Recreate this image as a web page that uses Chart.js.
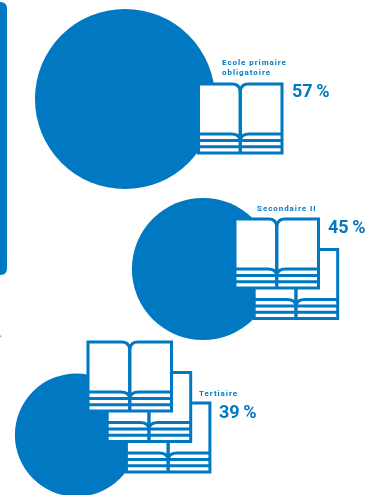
<!DOCTYPE html>
<html>
<head>
<meta charset="utf-8">
<style>
  html, body { margin: 0; padding: 0; background: #fff; overflow: hidden; }
  #myChart { display: block; }
</style>
<script src="https://cdn.jsdelivr.net/npm/chart.js@4"></script>
</head>
<body>
<canvas id="myChart" width="366" height="495"></canvas>
<script>
const categories = [['Ecole primaire', 'obligatoire'], ['Secondaire II'], ['Tertiaire']];
const percents = [57, 45, 39];
const bookCounts = [1, 2, 3];

const blue = '#0079c2';
const radiusPerPercent = 1.58;

// where each group sits, in canvas units (the axes run 0-366 and 0-495)
const groups = [
    {cx: 125, cy: 99, bookX: 198.5, bookY: 84, labelX: 222, labelY: 65, pctX: 292, pctY: 97},
    {cx: 203, cy: 269, bookX: 235, bookY: 219, labelX: 257, labelY: 211, pctX: 328, pctY: 233},
    {cx: 76.5, cy: 435, bookX: 88, bookY: 342, labelX: 199, labelY: 396, pctX: 219, pctY: 418}
];
const bookW = 83.5;
const bookH = 69;
const bookStepX = 19.2;
const bookStepY = 30.5;

function drawBook(ctx, x, y) {
    let mid = x + bookW / 2;
    let pageEnd = y + 50;

    ctx.fillStyle = '#fff';
    ctx.fillRect(x, y, bookW, bookH);

    ctx.strokeStyle = blue;
    ctx.lineWidth = 3;
    ctx.lineJoin = 'miter';

    // outer edge with the dip at the spine
    ctx.beginPath();
    ctx.moveTo(mid, y + 7);
    ctx.quadraticCurveTo(mid - 1, y, mid - 8, y);
    ctx.lineTo(x, y);
    ctx.lineTo(x, y + bookH);
    ctx.lineTo(x + bookW, y + bookH);
    ctx.lineTo(x + bookW, y);
    ctx.lineTo(mid + 8, y);
    ctx.quadraticCurveTo(mid + 1, y, mid, y + 7);
    ctx.stroke();

    // bottom edge of the open pages
    ctx.beginPath();
    ctx.moveTo(x, pageEnd);
    ctx.lineTo(mid - 9, pageEnd);
    ctx.quadraticCurveTo(mid - 1, pageEnd, mid, pageEnd + 6);
    ctx.quadraticCurveTo(mid + 1, pageEnd, mid + 9, pageEnd);
    ctx.lineTo(x + bookW, pageEnd);
    ctx.stroke();

    // page stripes
    ctx.beginPath();
    for (let i = 1; i <= 2; i++) {
        ctx.moveTo(x, pageEnd + i * 6.4);
        ctx.lineTo(x + bookW, pageEnd + i * 6.4);
    }
    ctx.stroke();

    // spine
    ctx.lineWidth = 3.4;
    ctx.beginPath();
    ctx.moveTo(mid, y + 6);
    ctx.lineTo(mid, y + bookH + 1);
    ctx.stroke();
}

const extras = {
    id: 'extras',
    afterDatasetsDraw(chart) {
        let ctx = chart.ctx;
        let xs = chart.scales.x;
        let ys = chart.scales.y;
        ctx.save();

        // rounded panel on the left edge
        ctx.fillStyle = blue;
        ctx.beginPath();
        ctx.roundRect(xs.getPixelForValue(-10), ys.getPixelForValue(2), 17, 273, 6);
        ctx.fill();

        // clipped mark on the left margin
        ctx.fillStyle = '#666';
        ctx.font = '6px Roboto';
        ctx.fillText('>', xs.getPixelForValue(-1.5), ys.getPixelForValue(338));

        for (let i = 0; i < groups.length; i++) {
            let g = groups[i];
            // back book first so the front one covers it
            for (let n = bookCounts[i] - 1; n >= 0; n--) {
                drawBook(ctx,
                    xs.getPixelForValue(g.bookX + n * bookStepX),
                    ys.getPixelForValue(g.bookY + n * bookStepY));
            }

            ctx.fillStyle = blue;
            ctx.textBaseline = 'alphabetic';
            ctx.textAlign = 'left';
            ctx.font = 'bold 8px Roboto';
            ctx.letterSpacing = '0.95px';
            categories[i].forEach(function (line, k) {
                ctx.fillText(line, xs.getPixelForValue(g.labelX), ys.getPixelForValue(g.labelY + k * 10));
            });

            ctx.font = 'bold 18px Roboto';
            ctx.letterSpacing = '0px';
            ctx.fillText(percents[i] + '\u2009%', xs.getPixelForValue(g.pctX), ys.getPixelForValue(g.pctY));
        }

        ctx.restore();
    }
};

let ctx = document.getElementById('myChart').getContext('2d');
let chart = new Chart(ctx, {
    type: 'bubble',
    data: {
        datasets: [{
            data: percents.map(function (p, i) {
                return {x: groups[i].cx, y: groups[i].cy, r: p * radiusPerPercent};
            }),
            backgroundColor: blue,
            borderWidth: 0,
            hoverRadius: 0,
            clip: false
        }]
    },
    options: {
        responsive: false,
        animation: false,
        layout: {padding: 0, autoPadding: false},
        plugins: {legend: {display: false}, tooltip: {enabled: false}},
        scales: {
            x: {type: 'linear', min: 0, max: 366, display: false},
            y: {type: 'linear', min: 0, max: 495, reverse: true, display: false}
        }
    },
    plugins: [extras]
});
</script>
</body>
</html>
